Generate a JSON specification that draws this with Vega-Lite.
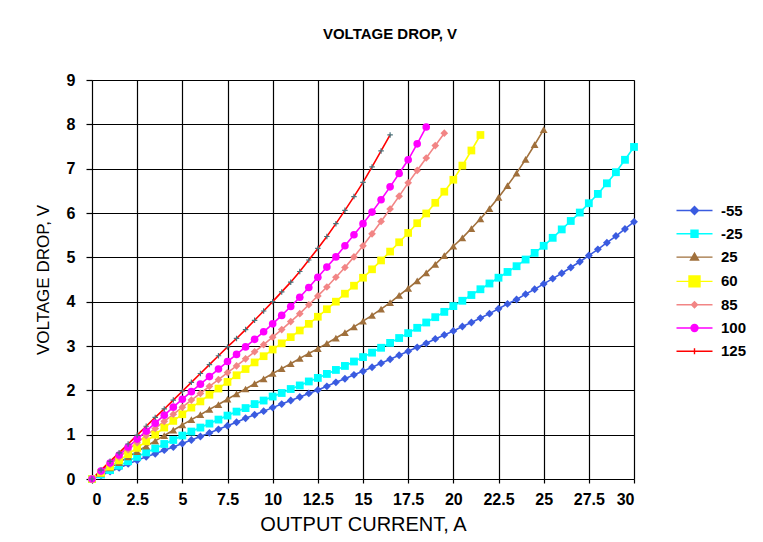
{
  "$schema": "https://vega.github.io/schema/vega-lite/v6.json",
  "width": 542,
  "height": 399,
  "autosize": {"type": "none"},
  "padding": {"left": 92, "top": 80, "right": 129, "bottom": 63},
  "background": "white",
  "title": {
    "text": "VOLTAGE DROP, V",
    "font": "Liberation Sans",
    "fontSize": 15,
    "fontWeight": "bold",
    "color": "black",
    "anchor": "middle",
    "dx": 27,
    "offset": 30
  },
  "config": {
    "view": {"stroke": "#808080", "strokeWidth": 1},
    "axis": {
      "domain": false,
      "grid": true,
      "gridColor": "#000000",
      "gridWidth": 1.2,
      "gridOpacity": 1,
      "tickColor": "#000000",
      "tickWidth": 1.2,
      "labelFont": "Liberation Sans",
      "labelFontWeight": "bold",
      "labelFontSize": 16,
      "labelColor": "#000000",
      "titleFont": "Liberation Sans",
      "titleFontWeight": "normal",
      "titleColor": "#000000"
    },
    "axisX": {"tickSize": 4, "labelPadding": 8, "titleFontSize": 20, "titlePadding": 7},
    "axisY": {"tickSize": 6, "labelPadding": 11, "titleFontSize": 17, "titlePadding": 14}
  },
  "data": {
    "values": [
      {"temp":"-55","amps":0,"volts":0},{"temp":"-55","amps":0.5,"volts":0.08},{"temp":"-55","amps":1,"volts":0.17},{"temp":"-55","amps":1.5,"volts":0.25},{"temp":"-55","amps":2,"volts":0.34},{"temp":"-55","amps":2.5,"volts":0.42},{"temp":"-55","amps":3,"volts":0.50},{"temp":"-55","amps":3.5,"volts":0.57},{"temp":"-55","amps":4,"volts":0.65},{"temp":"-55","amps":4.5,"volts":0.72},{"temp":"-55","amps":5,"volts":0.80},{"temp":"-55","amps":5.5,"volts":0.88},{"temp":"-55","amps":6,"volts":0.96},{"temp":"-55","amps":6.5,"volts":1.04},{"temp":"-55","amps":7,"volts":1.12},{"temp":"-55","amps":7.5,"volts":1.20},{"temp":"-55","amps":8,"volts":1.28},{"temp":"-55","amps":8.5,"volts":1.37},{"temp":"-55","amps":9,"volts":1.45},{"temp":"-55","amps":9.5,"volts":1.53},{"temp":"-55","amps":10,"volts":1.61},{"temp":"-55","amps":10.5,"volts":1.69},{"temp":"-55","amps":11,"volts":1.77},{"temp":"-55","amps":11.5,"volts":1.85},{"temp":"-55","amps":12,"volts":1.93},{"temp":"-55","amps":12.5,"volts":2.01},{"temp":"-55","amps":13,"volts":2.09},{"temp":"-55","amps":13.5,"volts":2.18},{"temp":"-55","amps":14,"volts":2.26},{"temp":"-55","amps":14.5,"volts":2.35},{"temp":"-55","amps":15,"volts":2.43},{"temp":"-55","amps":15.5,"volts":2.52},{"temp":"-55","amps":16,"volts":2.61},{"temp":"-55","amps":16.5,"volts":2.70},{"temp":"-55","amps":17,"volts":2.79},{"temp":"-55","amps":17.5,"volts":2.88},{"temp":"-55","amps":18,"volts":2.97},{"temp":"-55","amps":18.5,"volts":3.06},{"temp":"-55","amps":19,"volts":3.16},{"temp":"-55","amps":19.5,"volts":3.25},{"temp":"-55","amps":20,"volts":3.34},{"temp":"-55","amps":20.5,"volts":3.44},{"temp":"-55","amps":21,"volts":3.53},{"temp":"-55","amps":21.5,"volts":3.63},{"temp":"-55","amps":22,"volts":3.73},{"temp":"-55","amps":22.5,"volts":3.84},{"temp":"-55","amps":23,"volts":3.95},{"temp":"-55","amps":23.5,"volts":4.05},{"temp":"-55","amps":24,"volts":4.17},{"temp":"-55","amps":24.5,"volts":4.28},{"temp":"-55","amps":25,"volts":4.40},{"temp":"-55","amps":25.5,"volts":4.52},{"temp":"-55","amps":26,"volts":4.64},{"temp":"-55","amps":26.5,"volts":4.77},{"temp":"-55","amps":27,"volts":4.90},{"temp":"-55","amps":27.5,"volts":5.04},{"temp":"-55","amps":28,"volts":5.18},{"temp":"-55","amps":28.5,"volts":5.33},{"temp":"-55","amps":29,"volts":5.48},{"temp":"-55","amps":29.5,"volts":5.64},{"temp":"-55","amps":30,"volts":5.80},
      {"temp":"-25","amps":0,"volts":0},{"temp":"-25","amps":0.5,"volts":0.10},{"temp":"-25","amps":1,"volts":0.20},{"temp":"-25","amps":1.5,"volts":0.30},{"temp":"-25","amps":2,"volts":0.40},{"temp":"-25","amps":2.5,"volts":0.50},{"temp":"-25","amps":3,"volts":0.60},{"temp":"-25","amps":3.5,"volts":0.69},{"temp":"-25","amps":4,"volts":0.79},{"temp":"-25","amps":4.5,"volts":0.88},{"temp":"-25","amps":5,"volts":0.98},{"temp":"-25","amps":5.5,"volts":1.07},{"temp":"-25","amps":6,"volts":1.16},{"temp":"-25","amps":6.5,"volts":1.25},{"temp":"-25","amps":7,"volts":1.34},{"temp":"-25","amps":7.5,"volts":1.43},{"temp":"-25","amps":8,"volts":1.52},{"temp":"-25","amps":8.5,"volts":1.60},{"temp":"-25","amps":9,"volts":1.69},{"temp":"-25","amps":9.5,"volts":1.77},{"temp":"-25","amps":10,"volts":1.86},{"temp":"-25","amps":10.5,"volts":1.94},{"temp":"-25","amps":11,"volts":2.03},{"temp":"-25","amps":11.5,"volts":2.11},{"temp":"-25","amps":12,"volts":2.20},{"temp":"-25","amps":12.5,"volts":2.28},{"temp":"-25","amps":13,"volts":2.37},{"temp":"-25","amps":13.5,"volts":2.46},{"temp":"-25","amps":14,"volts":2.55},{"temp":"-25","amps":14.5,"volts":2.65},{"temp":"-25","amps":15,"volts":2.75},{"temp":"-25","amps":15.5,"volts":2.85},{"temp":"-25","amps":16,"volts":2.96},{"temp":"-25","amps":16.5,"volts":3.07},{"temp":"-25","amps":17,"volts":3.18},{"temp":"-25","amps":17.5,"volts":3.29},{"temp":"-25","amps":18,"volts":3.41},{"temp":"-25","amps":18.5,"volts":3.53},{"temp":"-25","amps":19,"volts":3.65},{"temp":"-25","amps":19.5,"volts":3.77},{"temp":"-25","amps":20,"volts":3.90},{"temp":"-25","amps":20.5,"volts":4.02},{"temp":"-25","amps":21,"volts":4.15},{"temp":"-25","amps":21.5,"volts":4.28},{"temp":"-25","amps":22,"volts":4.41},{"temp":"-25","amps":22.5,"volts":4.54},{"temp":"-25","amps":23,"volts":4.67},{"temp":"-25","amps":23.5,"volts":4.80},{"temp":"-25","amps":24,"volts":4.95},{"temp":"-25","amps":24.5,"volts":5.10},{"temp":"-25","amps":25,"volts":5.26},{"temp":"-25","amps":25.5,"volts":5.44},{"temp":"-25","amps":26,"volts":5.63},{"temp":"-25","amps":26.5,"volts":5.82},{"temp":"-25","amps":27,"volts":6.01},{"temp":"-25","amps":27.5,"volts":6.22},{"temp":"-25","amps":28,"volts":6.43},{"temp":"-25","amps":28.5,"volts":6.67},{"temp":"-25","amps":29,"volts":6.92},{"temp":"-25","amps":29.5,"volts":7.20},{"temp":"-25","amps":30,"volts":7.49},
      {"temp":"25","amps":0,"volts":0},{"temp":"25","amps":0.5,"volts":0.12},{"temp":"25","amps":1,"volts":0.25},{"temp":"25","amps":1.5,"volts":0.37},{"temp":"25","amps":2,"volts":0.50},{"temp":"25","amps":2.5,"volts":0.62},{"temp":"25","amps":3,"volts":0.74},{"temp":"25","amps":3.5,"volts":0.86},{"temp":"25","amps":4,"volts":0.98},{"temp":"25","amps":4.5,"volts":1.10},{"temp":"25","amps":5,"volts":1.22},{"temp":"25","amps":5.5,"volts":1.34},{"temp":"25","amps":6,"volts":1.45},{"temp":"25","amps":6.5,"volts":1.57},{"temp":"25","amps":7,"volts":1.68},{"temp":"25","amps":7.5,"volts":1.80},{"temp":"25","amps":8,"volts":1.92},{"temp":"25","amps":8.5,"volts":2.03},{"temp":"25","amps":9,"volts":2.15},{"temp":"25","amps":9.5,"volts":2.26},{"temp":"25","amps":10,"volts":2.38},{"temp":"25","amps":10.5,"volts":2.49},{"temp":"25","amps":11,"volts":2.60},{"temp":"25","amps":11.5,"volts":2.72},{"temp":"25","amps":12,"volts":2.83},{"temp":"25","amps":12.5,"volts":2.94},{"temp":"25","amps":13,"volts":3.06},{"temp":"25","amps":13.5,"volts":3.18},{"temp":"25","amps":14,"volts":3.30},{"temp":"25","amps":14.5,"volts":3.43},{"temp":"25","amps":15,"volts":3.56},{"temp":"25","amps":15.5,"volts":3.69},{"temp":"25","amps":16,"volts":3.83},{"temp":"25","amps":16.5,"volts":3.98},{"temp":"25","amps":17,"volts":4.14},{"temp":"25","amps":17.5,"volts":4.30},{"temp":"25","amps":18,"volts":4.47},{"temp":"25","amps":18.5,"volts":4.65},{"temp":"25","amps":19,"volts":4.84},{"temp":"25","amps":19.5,"volts":5.04},{"temp":"25","amps":20,"volts":5.25},{"temp":"25","amps":20.5,"volts":5.44},{"temp":"25","amps":21,"volts":5.65},{"temp":"25","amps":21.5,"volts":5.87},{"temp":"25","amps":22,"volts":6.10},{"temp":"25","amps":22.5,"volts":6.35},{"temp":"25","amps":23,"volts":6.62},{"temp":"25","amps":23.5,"volts":6.90},{"temp":"25","amps":24,"volts":7.21},{"temp":"25","amps":24.5,"volts":7.54},{"temp":"25","amps":25,"volts":7.88},
      {"temp":"60","amps":0,"volts":0},{"temp":"60","amps":0.5,"volts":0.14},{"temp":"60","amps":1,"volts":0.28},{"temp":"60","amps":1.5,"volts":0.42},{"temp":"60","amps":2,"volts":0.56},{"temp":"60","amps":2.5,"volts":0.70},{"temp":"60","amps":3,"volts":0.85},{"temp":"60","amps":3.5,"volts":1.00},{"temp":"60","amps":4,"volts":1.16},{"temp":"60","amps":4.5,"volts":1.31},{"temp":"60","amps":5,"volts":1.46},{"temp":"60","amps":5.5,"volts":1.61},{"temp":"60","amps":6,"volts":1.75},{"temp":"60","amps":6.5,"volts":1.90},{"temp":"60","amps":7,"volts":2.04},{"temp":"60","amps":7.5,"volts":2.19},{"temp":"60","amps":8,"volts":2.34},{"temp":"60","amps":8.5,"volts":2.48},{"temp":"60","amps":9,"volts":2.63},{"temp":"60","amps":9.5,"volts":2.77},{"temp":"60","amps":10,"volts":2.92},{"temp":"60","amps":10.5,"volts":3.06},{"temp":"60","amps":11,"volts":3.20},{"temp":"60","amps":11.5,"volts":3.35},{"temp":"60","amps":12,"volts":3.50},{"temp":"60","amps":12.5,"volts":3.66},{"temp":"60","amps":13,"volts":3.83},{"temp":"60","amps":13.5,"volts":4.00},{"temp":"60","amps":14,"volts":4.18},{"temp":"60","amps":14.5,"volts":4.36},{"temp":"60","amps":15,"volts":4.54},{"temp":"60","amps":15.5,"volts":4.73},{"temp":"60","amps":16,"volts":4.93},{"temp":"60","amps":16.5,"volts":5.13},{"temp":"60","amps":17,"volts":5.34},{"temp":"60","amps":17.5,"volts":5.55},{"temp":"60","amps":18,"volts":5.77},{"temp":"60","amps":18.5,"volts":5.99},{"temp":"60","amps":19,"volts":6.23},{"temp":"60","amps":19.5,"volts":6.48},{"temp":"60","amps":20,"volts":6.75},{"temp":"60","amps":20.5,"volts":7.07},{"temp":"60","amps":21,"volts":7.41},{"temp":"60","amps":21.5,"volts":7.76},
      {"temp":"85","amps":0,"volts":0},{"temp":"85","amps":0.5,"volts":0.16},{"temp":"85","amps":1,"volts":0.33},{"temp":"85","amps":1.5,"volts":0.49},{"temp":"85","amps":2,"volts":0.66},{"temp":"85","amps":2.5,"volts":0.82},{"temp":"85","amps":3,"volts":0.98},{"temp":"85","amps":3.5,"volts":1.14},{"temp":"85","amps":4,"volts":1.30},{"temp":"85","amps":4.5,"volts":1.46},{"temp":"85","amps":5,"volts":1.62},{"temp":"85","amps":5.5,"volts":1.78},{"temp":"85","amps":6,"volts":1.93},{"temp":"85","amps":6.5,"volts":2.09},{"temp":"85","amps":7,"volts":2.24},{"temp":"85","amps":7.5,"volts":2.40},{"temp":"85","amps":8,"volts":2.55},{"temp":"85","amps":8.5,"volts":2.71},{"temp":"85","amps":9,"volts":2.87},{"temp":"85","amps":9.5,"volts":3.03},{"temp":"85","amps":10,"volts":3.20},{"temp":"85","amps":10.5,"volts":3.37},{"temp":"85","amps":11,"volts":3.55},{"temp":"85","amps":11.5,"volts":3.73},{"temp":"85","amps":12,"volts":3.93},{"temp":"85","amps":12.5,"volts":4.13},{"temp":"85","amps":13,"volts":4.33},{"temp":"85","amps":13.5,"volts":4.55},{"temp":"85","amps":14,"volts":4.77},{"temp":"85","amps":14.5,"volts":5.01},{"temp":"85","amps":15,"volts":5.26},{"temp":"85","amps":15.5,"volts":5.53},{"temp":"85","amps":16,"volts":5.81},{"temp":"85","amps":16.5,"volts":6.09},{"temp":"85","amps":17,"volts":6.38},{"temp":"85","amps":17.5,"volts":6.68},{"temp":"85","amps":18,"volts":6.96},{"temp":"85","amps":18.5,"volts":7.24},{"temp":"85","amps":19,"volts":7.52},{"temp":"85","amps":19.5,"volts":7.80},
      {"temp":"100","amps":0,"volts":0},{"temp":"100","amps":0.5,"volts":0.18},{"temp":"100","amps":1,"volts":0.36},{"temp":"100","amps":1.5,"volts":0.54},{"temp":"100","amps":2,"volts":0.72},{"temp":"100","amps":2.5,"volts":0.90},{"temp":"100","amps":3,"volts":1.08},{"temp":"100","amps":3.5,"volts":1.26},{"temp":"100","amps":4,"volts":1.44},{"temp":"100","amps":4.5,"volts":1.62},{"temp":"100","amps":5,"volts":1.80},{"temp":"100","amps":5.5,"volts":1.97},{"temp":"100","amps":6,"volts":2.14},{"temp":"100","amps":6.5,"volts":2.31},{"temp":"100","amps":7,"volts":2.48},{"temp":"100","amps":7.5,"volts":2.65},{"temp":"100","amps":8,"volts":2.81},{"temp":"100","amps":8.5,"volts":2.98},{"temp":"100","amps":9,"volts":3.15},{"temp":"100","amps":9.5,"volts":3.32},{"temp":"100","amps":10,"volts":3.50},{"temp":"100","amps":10.5,"volts":3.69},{"temp":"100","amps":11,"volts":3.89},{"temp":"100","amps":11.5,"volts":4.10},{"temp":"100","amps":12,"volts":4.32},{"temp":"100","amps":12.5,"volts":4.55},{"temp":"100","amps":13,"volts":4.78},{"temp":"100","amps":13.5,"volts":5.01},{"temp":"100","amps":14,"volts":5.26},{"temp":"100","amps":14.5,"volts":5.51},{"temp":"100","amps":15,"volts":5.76},{"temp":"100","amps":15.5,"volts":6.02},{"temp":"100","amps":16,"volts":6.30},{"temp":"100","amps":16.5,"volts":6.59},{"temp":"100","amps":17,"volts":6.89},{"temp":"100","amps":17.5,"volts":7.20},{"temp":"100","amps":18,"volts":7.56},{"temp":"100","amps":18.5,"volts":7.94},
      {"temp":"125","amps":0,"volts":0},{"temp":"125","amps":0.5,"volts":0.20},{"temp":"125","amps":1,"volts":0.40},{"temp":"125","amps":1.5,"volts":0.59},{"temp":"125","amps":2,"volts":0.79},{"temp":"125","amps":2.5,"volts":0.99},{"temp":"125","amps":3,"volts":1.19},{"temp":"125","amps":3.5,"volts":1.39},{"temp":"125","amps":4,"volts":1.58},{"temp":"125","amps":4.5,"volts":1.78},{"temp":"125","amps":5,"volts":1.98},{"temp":"125","amps":5.5,"volts":2.18},{"temp":"125","amps":6,"volts":2.38},{"temp":"125","amps":6.5,"volts":2.58},{"temp":"125","amps":7,"volts":2.78},{"temp":"125","amps":7.5,"volts":2.98},{"temp":"125","amps":8,"volts":3.17},{"temp":"125","amps":8.5,"volts":3.37},{"temp":"125","amps":9,"volts":3.58},{"temp":"125","amps":9.5,"volts":3.79},{"temp":"125","amps":10,"volts":4.00},{"temp":"125","amps":10.5,"volts":4.22},{"temp":"125","amps":11,"volts":4.44},{"temp":"125","amps":11.5,"volts":4.68},{"temp":"125","amps":12,"volts":4.94},{"temp":"125","amps":12.5,"volts":5.20},{"temp":"125","amps":13,"volts":5.47},{"temp":"125","amps":13.5,"volts":5.76},{"temp":"125","amps":14,"volts":6.06},{"temp":"125","amps":14.5,"volts":6.37},{"temp":"125","amps":15,"volts":6.69},{"temp":"125","amps":15.5,"volts":7.04},{"temp":"125","amps":16,"volts":7.40},{"temp":"125","amps":16.5,"volts":7.76}
    ]
  },
  "layer": [
    {
      "mark": {"type": "line", "strokeWidth": 1.6},
      "encoding": {
        "x": {
          "field": "amps",
          "type": "quantitative",
          "title": "OUTPUT CURRENT, A",
          "scale": {"domain": [0, 30], "nice": false, "zero": true},
          "axis": {
            "values": [0, 2.5, 5, 7.5, 10, 12.5, 15, 17.5, 20, 22.5, 25, 27.5, 30],
            "labelExpr": "'' + datum.value"
          }
        },
        "y": {
          "field": "volts",
          "type": "quantitative",
          "title": "VOLTAGE DROP, V",
          "scale": {"domain": [0, 9], "nice": false},
          "axis": {"values": [0, 1, 2, 3, 4, 5, 6, 7, 8, 9]}
        },
        "color": {
          "field": "temp",
          "type": "nominal",
          "scale": {
            "domain": ["-55", "-25", "25", "60", "85", "100", "125"],
            "range": ["#3A5BE0", "#00FFFF", "#A0703C", "#FFFF00", "#F28585", "#FF00FF", "#FF0000"]
          },
          "legend": {
            "title": null,
            "orient": "none",
            "legendX": 595,
            "legendY": 123,
            "symbolSize": 100,
            "labelOffset": 19,
            "rowPadding": 7.3,
            "labelFont": "Liberation Sans",
            "labelFontSize": 15,
            "labelFontWeight": "bold",
            "labelColor": "#000000",
            "encode": {
              "symbols": {
                "update": {
                  "shape": {"signal": "datum.value === '-55' ? 'M-3.6,0H3.6M0,-0.8L0.8,0L0,0.8L-0.8,0Z' : datum.value === '-25' ? 'M-3.6,0H3.6M-0.7,-0.7H0.7V0.7H-0.7Z' : datum.value === '25' ? 'M-3.6,0H3.6M0,-0.8L0.8,0.6H-0.8Z' : datum.value === '60' ? 'M-3.6,0H3.6M-1.1,-1.1H1.1V1.1H-1.1Z' : datum.value === '85' ? 'M-3.6,0H3.6M0,-0.6L0.6,0L0,0.6L-0.6,0Z' : datum.value === '100' ? 'M-3.6,0H3.6M0.7,0A0.7,0.7 0 1,1 -0.7,0A0.7,0.7 0 1,1 0.7,0Z' : 'M-3.6,0H3.6M0,-0.6V0.6'"},
                  "fill": {"signal": "scale('color', datum.value)"},
                  "stroke": {"signal": "scale('color', datum.value)"},
                  "strokeWidth": {"value": 1.5},
                  "opacity": {"value": 1}
                }
              }
            }
          }
        },
        "strokeWidth": {
          "field": "temp",
          "type": "nominal",
          "scale": {
            "domain": ["-55", "-25", "25", "60", "85", "100", "125"],
            "range": [1.4, 1.4, 1.8, 1.6, 2, 2, 2.6]
          },
          "legend": null
        }
      }
    },
    {
      "transform": [{"filter": "datum.temp !== '125'"}],
      "mark": {"type": "point", "filled": true, "opacity": 1},
      "encoding": {
        "x": {"field": "amps", "type": "quantitative", "title": "OUTPUT CURRENT, A"},
        "y": {"field": "volts", "type": "quantitative", "title": "VOLTAGE DROP, V"},
        "fill": {
          "field": "temp",
          "type": "nominal",
          "scale": {
            "domain": ["-55", "-25", "25", "60", "85", "100"],
            "range": ["#3A5BE0", "#00FFFF", "#A0703C", "#FFFF00", "#F28585", "#FF00FF"]
          },
          "legend": null
        },
        "shape": {
          "field": "temp",
          "type": "nominal",
          "scale": {
            "domain": ["-55", "-25", "25", "60", "85", "100"],
            "range": ["diamond", "square", "triangle-up", "square", "diamond", "circle"]
          },
          "legend": null
        },
        "size": {
          "field": "temp",
          "type": "nominal",
          "scale": {
            "domain": ["-55", "-25", "25", "60", "85", "100"],
            "range": [62, 58, 55, 140, 40, 55]
          },
          "legend": null
        }
      }
    },
    {
      "transform": [{"filter": "datum.temp === '125'"}],
      "mark": {
        "type": "point",
        "shape": "M-1,0H1M0,-1V1",
        "size": 30,
        "filled": false,
        "stroke": "#4B737B",
        "strokeWidth": 1.2,
        "opacity": 1
      },
      "encoding": {
        "x": {"field": "amps", "type": "quantitative", "title": "OUTPUT CURRENT, A"},
        "y": {"field": "volts", "type": "quantitative", "title": "VOLTAGE DROP, V"}
      }
    }
  ]
}
